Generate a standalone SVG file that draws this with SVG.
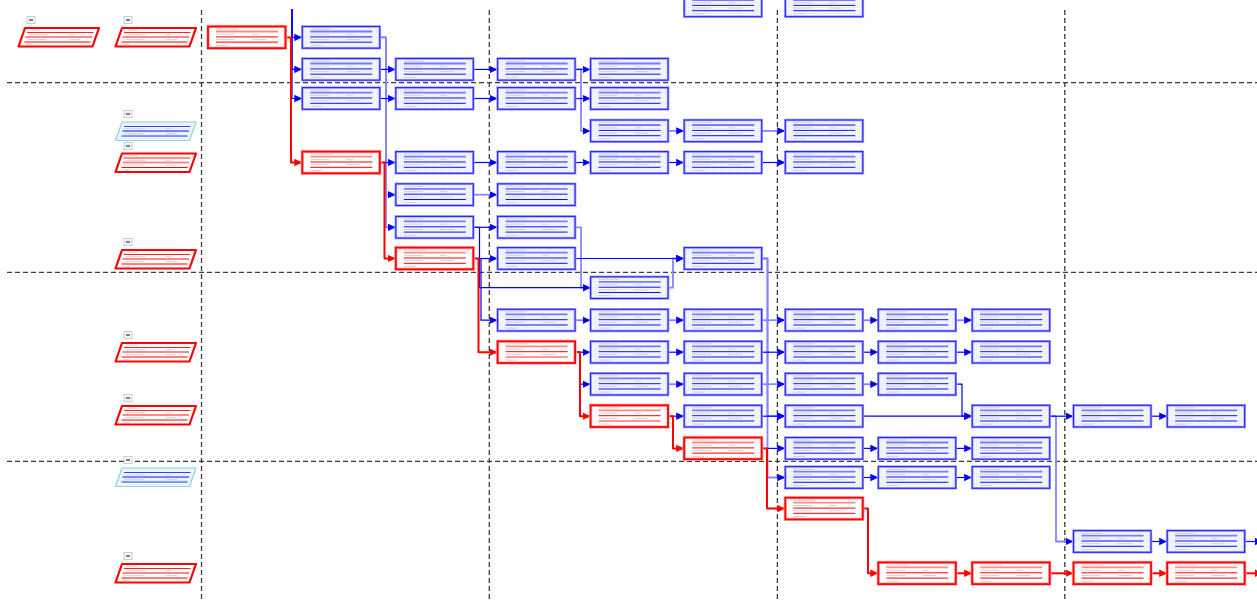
<svg xmlns="http://www.w3.org/2000/svg" width="1257" height="602" viewBox="0 0 1257 602">
<style>
.dash{stroke:#3a3a3a;stroke-width:1.3;stroke-dasharray:5 3;fill:none}
.d{fill:none;stroke:#0000ff;stroke-width:1.2;stroke-linejoin:round;marker-end:url(#ab)}
.l{fill:none;stroke:#8585ff;stroke-width:1.8;stroke-linejoin:round;marker-end:url(#ab)}
.r{fill:none;stroke:#ff0000;stroke-width:2;stroke-linejoin:round;marker-end:url(#ar)}
.gb{stroke:#cfcfcf;stroke-width:0.9}
</style>
<defs>
<pattern id="dotB" width="2" height="2" patternUnits="userSpaceOnUse"><rect width="2" height="2" fill="#f9fbff"/><rect width="1" height="1" fill="#d3ddf5"/></pattern>
<pattern id="dotC" width="2" height="2" patternUnits="userSpaceOnUse"><rect width="2" height="2" fill="#f4fbfc"/><rect width="1" height="1" fill="#bfe6ec"/></pattern>
<marker id="ab" viewBox="0 0 8 8" refX="8" refY="4" markerWidth="8" markerHeight="8" markerUnits="userSpaceOnUse" orient="auto"><path d="M0,0.3 L8,4 L0,7.7 z" fill="#0000ff"/></marker>
<marker id="ar" viewBox="0 0 8 8" refX="8" refY="4" markerWidth="8" markerHeight="8" markerUnits="userSpaceOnUse" orient="auto"><path d="M0,0.3 L8,4 L0,7.7 z" fill="#ff0000"/></marker>
<g id="bn">
<rect x="0" y="0" width="77.5" height="21.7" fill="url(#dotB)" stroke="#a9a9ff" stroke-width="2.6"/>
<rect x="0" y="0" width="77.5" height="21.7" fill="none" stroke="#2222ff" stroke-width="1.1"/>
<line x1="8" y1="5" x2="70" y2="5" stroke="#7b7bff" stroke-width="1.8"/>
<line x1="8" y1="10.4" x2="70" y2="10.4" stroke="#1010ff" stroke-width="1"/>
<line x1="8" y1="15.7" x2="70" y2="15.7" stroke="#1010ff" stroke-width="1"/>
<line x1="8" y1="2.6" x2="28" y2="2.6" class="gb"/>
<line x1="8" y1="7.8" x2="27" y2="7.8" class="gb"/><line x1="44" y1="7.8" x2="51" y2="7.8" class="gb"/>
<line x1="8" y1="13.1" x2="27" y2="13.1" class="gb"/><line x1="44" y1="13.1" x2="58" y2="13.1" class="gb"/>
<line x1="8" y1="18.8" x2="20" y2="18.8" class="gb"/>
</g>
<g id="rn">
<rect x="0" y="0" width="77.5" height="21.7" fill="#ffffff" stroke="#ffb4b4" stroke-width="3.4"/>
<rect x="0" y="0" width="77.5" height="21.7" fill="none" stroke="#ff0000" stroke-width="1.8"/>
<line x1="8" y1="5" x2="70" y2="5" stroke="#ff8a8a" stroke-width="1.8"/>
<line x1="8" y1="10.4" x2="70" y2="10.4" stroke="#ff0000" stroke-width="1"/>
<line x1="8" y1="15.7" x2="70" y2="15.7" stroke="#ff3030" stroke-width="1.2"/>
<line x1="8" y1="2.6" x2="30" y2="2.6" class="gb"/>
<line x1="8" y1="7.8" x2="27" y2="7.8" class="gb"/><line x1="44" y1="7.8" x2="51" y2="7.8" class="gb"/>
<line x1="8" y1="13.1" x2="27" y2="13.1" class="gb"/><line x1="44" y1="13.1" x2="58" y2="13.1" class="gb"/>
<line x1="8" y1="18.8" x2="20" y2="18.8" class="gb"/>
</g>
<g id="pr">
<polygon points="6.5,0 80.5,0 74,18.5 0,18.5" fill="#ffffff" stroke="#ff0000" stroke-width="2.2" stroke-linejoin="round"/>
<line x1="8.5" y1="4.5" x2="75" y2="4.5" stroke="#ff2020" stroke-width="1"/>
<line x1="7" y1="9" x2="73.5" y2="9" stroke="#ff8a8a" stroke-width="1.8"/>
<line x1="6" y1="14" x2="72" y2="14" stroke="#ff0000" stroke-width="1"/>
<line x1="12" y1="2.2" x2="22" y2="2.2" class="gb"/>
<line x1="10" y1="6.8" x2="30" y2="6.8" class="gb"/><line x1="50" y1="6.8" x2="56" y2="6.8" class="gb"/>
<line x1="9" y1="11.6" x2="28" y2="11.6" class="gb"/><line x1="50" y1="11.6" x2="62" y2="11.6" class="gb"/>
<line x1="8" y1="16.4" x2="14" y2="16.4" class="gb"/>
</g>
<g id="pc">
<polygon points="6.5,0 80.5,0 74,18.5 0,18.5" fill="url(#dotC)" stroke="#8ad0da" stroke-width="1.1" stroke-linejoin="round"/>
<line x1="8.5" y1="4.5" x2="75" y2="4.5" stroke="#3a3aff" stroke-width="1"/>
<line x1="7" y1="9" x2="73.5" y2="9" stroke="#7f7fff" stroke-width="1.8"/>
<line x1="6" y1="14" x2="72" y2="14" stroke="#2a2aff" stroke-width="1"/>
<line x1="10" y1="6.8" x2="30" y2="6.8" class="gb"/><line x1="50" y1="6.8" x2="56" y2="6.8" class="gb"/>
<line x1="9" y1="11.6" x2="28" y2="11.6" class="gb"/><line x1="50" y1="11.6" x2="62" y2="11.6" class="gb"/>
</g>
<g id="mi">
<rect x="0" y="0" width="8" height="7" fill="#f5f7fb" stroke="#b9c4d6" stroke-width="0.8"/>
<line x1="2" y1="3.5" x2="6" y2="3.5" stroke="#333333" stroke-width="1.2"/>
</g>
</defs>
<rect width="1257" height="602" fill="#ffffff"/>

<g id="grid">
<line x1="7" y1="82.7" x2="1257" y2="82.7" class="dash"/>
<line x1="7" y1="272.3" x2="1257" y2="272.3" class="dash"/>
<line x1="7" y1="461.3" x2="1257" y2="461.3" class="dash"/>
<line x1="201.5" y1="10" x2="201.5" y2="602" class="dash"/>
<line x1="489.3" y1="10" x2="489.3" y2="602" class="dash"/>
<line x1="777.4" y1="10" x2="777.4" y2="602" class="dash"/>
<line x1="1064.8" y1="10" x2="1064.8" y2="602" class="dash"/>
</g>

<g id="lanes">
<g id="lane-a1"><use href="#mi" x="27" y="16.5"/><use href="#pr" x="18.5" y="28"/></g>
<g id="lane-b1"><use href="#mi" x="124" y="16.5"/><use href="#pr" x="115.5" y="28"/></g>
<g id="lane-b2"><use href="#mi" x="124" y="110.5"/><use href="#pc" x="115.5" y="122"/></g>
<g id="lane-b3"><use href="#mi" x="124" y="142.5"/><use href="#pr" x="115.5" y="153.5"/></g>
<g id="lane-b4"><use href="#mi" x="124" y="238.5"/><use href="#pr" x="115.5" y="250"/></g>
<g id="lane-b5"><use href="#mi" x="124" y="331.5"/><use href="#pr" x="115.5" y="343"/></g>
<g id="lane-b6"><use href="#mi" x="124" y="394.5"/><use href="#pr" x="115.5" y="406"/></g>
<g id="lane-b7"><use href="#mi" x="124" y="456.5"/><use href="#pc" x="115.5" y="468"/></g>
<g id="lane-b8"><use href="#mi" x="124" y="552.5"/><use href="#pr" x="115.5" y="564"/></g>
</g>

<g id="connectors">
<path class="l" d="M379.8,37.4 H386 V194.7 H395.8"/>
<path class="l" d="M379.8,37.4 H386 V227.3 H395.8"/>
<path class="l" d="M575.1,69.4 H581 V130.9 H590.6"/>
<path class="l" d="M668.1,130.9 H684.2"/>
<path class="l" d="M761.7,130.9 H785.3"/>
<path class="l" d="M473.3,194.7 H497.6"/>
<path class="l" d="M575.1,227.3 H581 V287.7 H590.6"/>
<path class="l" d="M668.1,287.7 H673 V258.5 H684.2"/>
<path class="l" d="M761.7,258.5 H767.5 V416.2 H785.3"/>
<path class="l" d="M761.7,258.5 H767.5 V477.5 H785.3"/>
<path class="l" d="M575.1,320.2 H590.6"/>
<path class="l" d="M668.1,320.2 H684.2"/>
<path class="l" d="M761.7,320.2 H785.3"/>
<path class="l" d="M862.8,320.2 H878.3"/>
<path class="l" d="M955.8,320.2 H972.2"/>
<path class="l" d="M668.1,384.2 H684.2"/>
<path class="l" d="M761.7,384.2 H785.3"/>
<path class="l" d="M862.8,384.2 H878.3"/>
<path class="l" d="M1049.7,416.2 H1056 V541.5 H1073.5"/>

<path class="d" d="M292,9 V37.4 H302.3"/>
<path class="d" d="M292,9 V69.4 H302.3"/>
<path class="d" d="M292,9 V98.5 H302.3"/>
<path class="d" d="M379.8,69.4 H395.8"/>
<path class="d" d="M473.3,69.4 H497.6"/>
<path class="d" d="M575.1,69.4 H590.6"/>
<path class="d" d="M379.8,98.5 H395.8"/>
<path class="d" d="M473.3,98.5 H497.6"/>
<path class="d" d="M575.1,98.5 H590.6"/>
<path class="d" d="M379.8,162.5 H395.8"/>
<path class="d" d="M473.3,162.5 H497.6"/>
<path class="d" d="M575.1,162.5 H590.6"/>
<path class="d" d="M668.1,162.5 H684.2"/>
<path class="d" d="M761.7,162.5 H785.3"/>
<path class="d" d="M473.3,227.3 H497.6"/>
<path class="d" d="M473.3,227.3 H479.5 V287.7 H590.6"/>
<path class="d" d="M473.3,258.5 H497.6"/>
<path class="d" d="M473.3,258.5 H481 V320.2 H497.6"/>
<path class="d" d="M575.1,258.5 H684.2"/>
<path class="d" d="M575.1,352.2 H590.6"/>
<path class="d" d="M668.1,352.2 H684.2"/>
<path class="d" d="M761.7,352.2 H785.3"/>
<path class="d" d="M862.8,352.2 H878.3"/>
<path class="d" d="M955.8,352.2 H972.2"/>
<path class="d" d="M575.1,352.2 H580 V384.2 H590.6"/>
<path class="d" d="M955.8,384.2 H962 V416.2 H972.2"/>
<path class="d" d="M668.1,416.2 H684.2"/>
<path class="d" d="M761.7,416.2 H785.3"/>
<path class="d" d="M862.8,416.2 H972.2"/>
<path class="d" d="M1049.7,416.2 H1073.5"/>
<path class="d" d="M1151,416.2 H1167.2"/>
<path class="d" d="M761.7,448.4 H785.3"/>
<path class="d" d="M862.8,448.4 H878.3"/>
<path class="d" d="M955.8,448.4 H972.2"/>
<path class="d" d="M862.8,477.5 H878.3"/>
<path class="d" d="M955.8,477.5 H972.2"/>
<path class="d" d="M1151,541.5 H1167.2"/>
<path class="d" d="M1244.7,541.5 H1263"/>

<path class="r" d="M285.5,37.4 H291 V162.5 H302.3"/>
<path class="r" d="M379.8,162.5 H384.5 V258.5 H395.8"/>
<path class="r" d="M473.3,258.5 H478.5 V352.2 H497.6"/>
<path class="r" d="M575.1,352.2 H580 V416.2 H590.6"/>
<path class="r" d="M668.1,416.2 H673 V448.4 H684.2"/>
<path class="r" d="M761.7,448.4 H767 V508.6 H785.3"/>
<path class="r" d="M862.8,508.6 H868 V573.3 H878.3"/>
<path class="r" d="M955.8,573.3 H972.2"/>
<path class="r" d="M1049.7,573.3 H1073.5"/>
<path class="r" d="M1151,573.3 H1167.2"/>
<path class="r" d="M1244.7,573.3 H1263"/>
</g>

<g id="nodes">
<g id="n-t5"><use href="#bn" x="684.2" y="-5"/></g>
<g id="n-t6"><use href="#bn" x="785.3" y="-5"/></g>
<g id="n-1-0"><use href="#rn" x="208" y="26.5"/></g>
<g id="n-1-1"><use href="#bn" x="302.3" y="26.5"/></g>
<g id="n-2-1"><use href="#bn" x="302.3" y="58.5"/></g>
<g id="n-2-2"><use href="#bn" x="395.8" y="58.5"/></g>
<g id="n-2-3"><use href="#bn" x="497.6" y="58.5"/></g>
<g id="n-2-4"><use href="#bn" x="590.6" y="58.5"/></g>
<g id="n-3-1"><use href="#bn" x="302.3" y="87.6"/></g>
<g id="n-3-2"><use href="#bn" x="395.8" y="87.6"/></g>
<g id="n-3-3"><use href="#bn" x="497.6" y="87.6"/></g>
<g id="n-3-4"><use href="#bn" x="590.6" y="87.6"/></g>
<g id="n-4-4"><use href="#bn" x="590.6" y="120"/></g>
<g id="n-4-5"><use href="#bn" x="684.2" y="120"/></g>
<g id="n-4-6"><use href="#bn" x="785.3" y="120"/></g>
<g id="n-5-1"><use href="#rn" x="302.3" y="151.6"/></g>
<g id="n-5-2"><use href="#bn" x="395.8" y="151.6"/></g>
<g id="n-5-3"><use href="#bn" x="497.6" y="151.6"/></g>
<g id="n-5-4"><use href="#bn" x="590.6" y="151.6"/></g>
<g id="n-5-5"><use href="#bn" x="684.2" y="151.6"/></g>
<g id="n-5-6"><use href="#bn" x="785.3" y="151.6"/></g>
<g id="n-6-2"><use href="#bn" x="395.8" y="183.8"/></g>
<g id="n-6-3"><use href="#bn" x="497.6" y="183.8"/></g>
<g id="n-7-2"><use href="#bn" x="395.8" y="216.4"/></g>
<g id="n-7-3"><use href="#bn" x="497.6" y="216.4"/></g>
<g id="n-8-2"><use href="#rn" x="395.8" y="247.6"/></g>
<g id="n-8-3"><use href="#bn" x="497.6" y="247.6"/></g>
<g id="n-8-5"><use href="#bn" x="684.2" y="247.6"/></g>
<g id="n-9-4"><use href="#bn" x="590.6" y="276.8"/></g>
<g id="n-10-3"><use href="#bn" x="497.6" y="309.3"/></g>
<g id="n-10-4"><use href="#bn" x="590.6" y="309.3"/></g>
<g id="n-10-5"><use href="#bn" x="684.2" y="309.3"/></g>
<g id="n-10-6"><use href="#bn" x="785.3" y="309.3"/></g>
<g id="n-10-7"><use href="#bn" x="878.3" y="309.3"/></g>
<g id="n-10-8"><use href="#bn" x="972.2" y="309.3"/></g>
<g id="n-11-3"><use href="#rn" x="497.6" y="341.3"/></g>
<g id="n-11-4"><use href="#bn" x="590.6" y="341.3"/></g>
<g id="n-11-5"><use href="#bn" x="684.2" y="341.3"/></g>
<g id="n-11-6"><use href="#bn" x="785.3" y="341.3"/></g>
<g id="n-11-7"><use href="#bn" x="878.3" y="341.3"/></g>
<g id="n-11-8"><use href="#bn" x="972.2" y="341.3"/></g>
<g id="n-12-4"><use href="#bn" x="590.6" y="373.3"/></g>
<g id="n-12-5"><use href="#bn" x="684.2" y="373.3"/></g>
<g id="n-12-6"><use href="#bn" x="785.3" y="373.3"/></g>
<g id="n-12-7"><use href="#bn" x="878.3" y="373.3"/></g>
<g id="n-13-4"><use href="#rn" x="590.6" y="405.3"/></g>
<g id="n-13-5"><use href="#bn" x="684.2" y="405.3"/></g>
<g id="n-13-6"><use href="#bn" x="785.3" y="405.3"/></g>
<g id="n-13-8"><use href="#bn" x="972.2" y="405.3"/></g>
<g id="n-13-9"><use href="#bn" x="1073.5" y="405.3"/></g>
<g id="n-13-10"><use href="#bn" x="1167.2" y="405.3"/></g>
<g id="n-14-5"><use href="#rn" x="684.2" y="437.5"/></g>
<g id="n-14-6"><use href="#bn" x="785.3" y="437.5"/></g>
<g id="n-14-7"><use href="#bn" x="878.3" y="437.5"/></g>
<g id="n-14-8"><use href="#bn" x="972.2" y="437.5"/></g>
<g id="n-15-6"><use href="#bn" x="785.3" y="466.6"/></g>
<g id="n-15-7"><use href="#bn" x="878.3" y="466.6"/></g>
<g id="n-15-8"><use href="#bn" x="972.2" y="466.6"/></g>
<g id="n-16-6"><use href="#rn" x="785.3" y="497.7"/></g>
<g id="n-17-9"><use href="#bn" x="1073.5" y="530.6"/></g>
<g id="n-17-10"><use href="#bn" x="1167.2" y="530.6"/></g>
<g id="n-18-7"><use href="#rn" x="878.3" y="562.4"/></g>
<g id="n-18-8"><use href="#rn" x="972.2" y="562.4"/></g>
<g id="n-18-9"><use href="#rn" x="1073.5" y="562.4"/></g>
<g id="n-18-10"><use href="#rn" x="1167.2" y="562.4"/></g>
</g>
</svg>
